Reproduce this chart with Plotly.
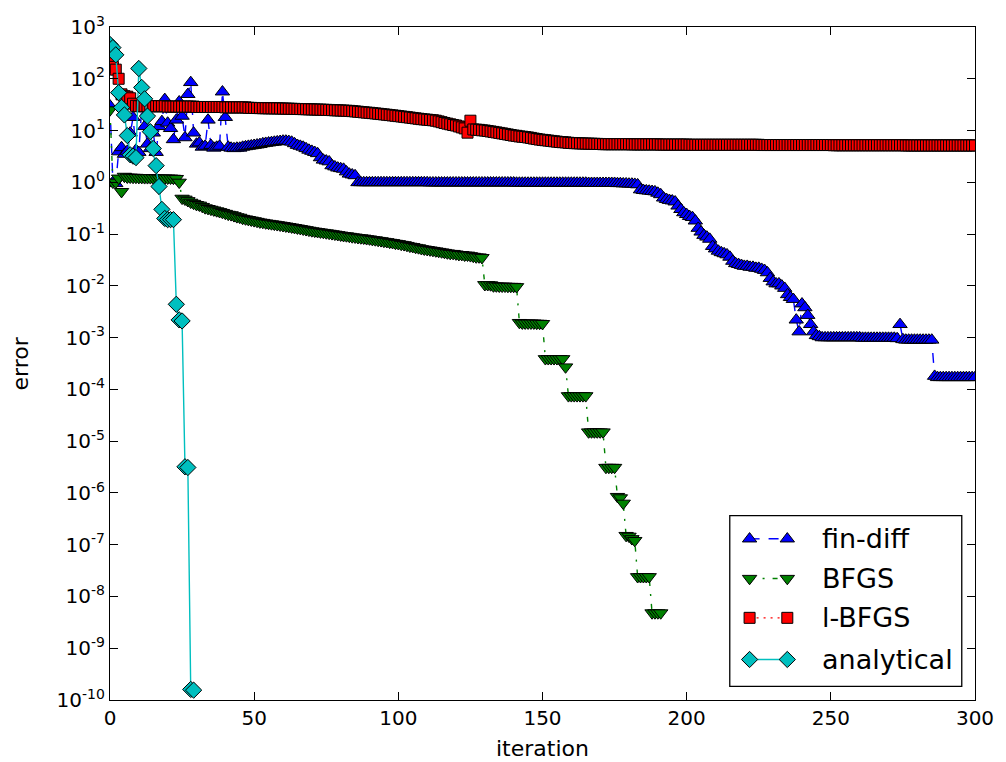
import plotly.graph_objects as go

# ---------------- data ----------------
x_ticks = [0, 50, 100, 150, 200, 250, 300]
y_tick_vals = [1e3, 1e2, 1e1, 1e0, 1e-1, 1e-2, 1e-3, 1e-4, 1e-5, 1e-6, 1e-7, 1e-8, 1e-9, 1e-10]
y_tick_text = ["10<sup>3</sup>", "10<sup>2</sup>", "10<sup>1</sup>", "10<sup>0</sup>",
               "10<sup>-1</sup>", "10<sup>-2</sup>", "10<sup>-3</sup>", "10<sup>-4</sup>",
               "10<sup>-5</sup>", "10<sup>-6</sup>", "10<sup>-7</sup>", "10<sup>-8</sup>",
               "10<sup>-9</sup>", "10<sup>-10</sup>"]
series_names = ["fin-diff", "BFGS", "l-BFGS", "analytical"]

fin_diff = ([30, 1.0, 0.95, 3.9, 4.7, 3.5, 4.0, 9.0, 18, 4.2,
             3.8, 28, 12, 5.5, 4.5, 9.0, 3.8, 12, 15, 40,
             14, 11, 6.7, 16, 36, 19, 7.3, 50, 85, 9.0,
             5.5, 5.8, 4.8, 5.0, 16, 5.2, 4.6, 4.8, 5.0, 56,
             18, 4.8, 4.6, 4.5, 4.6,
             4.6, 4.8, 4.9, 5.0, 5.1, 5.2, 5.3, 5.4, 5.6, 5.7,
             5.8, 5.9, 6.0, 6.1, 6.2, 6.3, 6.3, 6.2, 6.0, 5.6,
             5.2, 5.0, 4.8, 4.5, 4.2, 4.0, 3.8, 3.6, 3.0, 2.7,
             2.6, 2.5, 2.1, 2.0, 1.9, 1.85, 1.8, 1.6, 1.45, 1.4,
             1.35]
            + [0.99] * 25 + [0.98] * 30 + [0.97] * 25 + [0.96] * 10
            + [0.95, 0.95, 0.94, 0.94, 0.93, 0.93, 0.92, 0.9,
               0.72, 0.70, 0.69, 0.68, 0.67, 0.66, 0.62, 0.58,
               0.50, 0.47, 0.45, 0.44, 0.42, 0.35,
               0.30, 0.26, 0.24, 0.22, 0.21, 0.18,
               0.13, 0.11, 0.095, 0.088, 0.08,
               0.058, 0.052, 0.047, 0.044, 0.042, 0.040, 0.036,
               0.030, 0.027, 0.026, 0.025, 0.024, 0.024, 0.023, 0.023, 0.022, 0.022, 0.021, 0.020, 0.018,
               0.014, 0.012, 0.011, 0.011, 0.010, 0.009,
               0.0068, 0.0060, 0.0055,
               0.0022, 0.0013, 0.0045, 0.0038, 0.0027, 0.0018, 0.0013, 0.0011, 0.00105]
            + [0.001] * 14 + [0.00098] * 12
            + [0.00096, 0.0018, 0.00092]
            + [0.0009] * 10 + [0.00018] + [0.00017] * 14)

bfgs = ([25, 1.0, 1.0, 1.2, 0.66, 1.3,
         1.25, 1.25, 1.24, 1.24, 1.23, 1.23, 1.22, 1.22, 1.22, 1.21,
         1.21, 1.2, 1.2, 1.2, 1.2, 1.2, 1.19, 1.18,
         1.0,
         0.49, 0.47, 0.44, 0.41, 0.39, 0.37, 0.36, 0.34, 0.32, 0.31,
         0.30, 0.29, 0.28, 0.27, 0.26, 0.25, 0.24, 0.235, 0.225, 0.215,
         0.21, 0.20, 0.195, 0.19, 0.185, 0.18, 0.175, 0.17, 0.167, 0.163,
         0.16, 0.157, 0.154, 0.151, 0.148, 0.145, 0.142, 0.139, 0.136, 0.133,
         0.13, 0.127, 0.124, 0.121, 0.118, 0.115, 0.113, 0.111, 0.109, 0.107,
         0.105, 0.103, 0.101, 0.099, 0.097, 0.095, 0.093, 0.092, 0.09, 0.088,
         0.087, 0.085, 0.084, 0.083, 0.081, 0.08, 0.078, 0.077, 0.075, 0.074,
         0.072, 0.071, 0.069, 0.068, 0.066, 0.065, 0.063, 0.062, 0.06, 0.058,
         0.057, 0.055, 0.054, 0.052, 0.051, 0.05, 0.049, 0.048, 0.047, 0.046,
         0.045, 0.044, 0.043, 0.042, 0.042, 0.041, 0.04, 0.04, 0.039, 0.039,
         0.038, 0.037, 0.036, 0.036, 0.035,
         0.0105, 0.0105, 0.0104, 0.0099, 0.0099, 0.0098, 0.0098, 0.0098, 0.0097, 0.0097,
         0.0097, 0.0096,
         0.00195, 0.0019, 0.0019, 0.0019, 0.0019, 0.0019, 0.00188, 0.00188, 0.00186]
        + [0.00039] * 7 + [0.00027] + [7.5e-5] * 7 + [1.5e-5] * 6 + [3.1e-6] * 4
        + [8.5e-7, 8.0e-7, 6.3e-7, 1.5e-7, 1.45e-7, 1.3e-7, 1.2e-7]
        + [2.4e-8] * 5 + [4.8e-9] * 4)

l_bfgs = ([200, 170, 150, 100, 50, 46, 45, 42, 33, 30]
          + [29.5] * 10 + [29.0] * 10 + [28.5] * 10 + [28.0] * 8
          + [27.5, 27.4, 27.3, 27.2, 27.1, 27.0, 27.0, 26.9, 26.9, 26.8, 26.8, 26.7,
             26.6, 26.5, 26.4, 26.3, 26.2, 26.1, 26.0, 25.9, 25.8, 25.7, 25.6, 25.5,
             25.4, 25.3, 25.2, 25.1,
             25.0, 24.8, 24.6, 24.5, 24.4, 24.3, 24.1, 24.0,
             23.7, 23.4, 23.1, 22.8, 22.5, 22.2, 22.0,
             21.7, 21.4, 21.1, 20.8, 20.5, 20.2, 19.9, 19.6, 19.3, 19.0,
             18.7, 18.4, 18.1, 17.8, 17.5, 17.2, 16.9, 16.6, 16.4, 16.2, 16.0, 15.8, 15.5,
             15.0, 14.5, 14.0, 13.6, 13.2, 12.8, 12.5, 12.0, 11.5, 11.0,
             9.1, 15.5, 10.5, 10.4, 10.3, 10.1, 10.0, 9.8, 9.6, 9.4, 9.2,
             9.0, 8.8, 8.6, 8.4, 8.2, 8.0, 7.9, 7.7, 7.6, 7.5, 7.35, 7.2,
             7.0, 6.85, 6.7, 6.6, 6.5, 6.4, 6.3, 6.2, 6.1, 6.0, 5.95, 5.9,
             5.8, 5.75, 5.7, 5.68, 5.65, 5.62, 5.6, 5.58, 5.56, 5.54, 5.52, 5.5]
          + [5.45] * 10 + [5.4] * 10 + [5.35] * 10
          + [5.3] * 25 + [5.25] * 25 + [5.2] * 25 + [5.15] * 25)

analytical = [460, 400, 290, 54, 28, 20, 8.0, 3.4, 3.2, 3.0,
              158, 68, 41, 19, 9.5, 4.5, 2.1, 0.83, 0.30, 0.20,
              0.19, 0.19, 0.19, 0.0044, 0.0022, 0.0021, 3.2e-6, 3.1e-6, 1.6e-10, 1.55e-10]

# ---------------- styles ----------------
styles = {
    "fin-diff":   dict(color="#0000ff", symbol="triangle-up", size=12.5, dash="10px,9px"),
    "BFGS":       dict(color="#008000", symbol="triangle-down", size=12.5, dash="5px,8px,2px,8px"),
    "l-BFGS":     dict(color="#ff0000", symbol="square", size=11, dash="2px,5px"),
    "analytical": dict(color="#00bfbf", symbol="diamond", size=12.5, dash="solid"),
}
values = {"fin-diff": fin_diff, "BFGS": bfgs, "l-BFGS": l_bfgs, "analytical": analytical}

FONT = "DejaVu Sans"
fig = go.Figure()
for name in series_names:
    st = styles[name]
    ys = values[name]
    fig.add_trace(go.Scatter(
        x=list(range(len(ys))), y=ys, mode="lines+markers", name=name,
        line=dict(color=st["color"], width=1.4, dash=st["dash"]),
        marker=dict(symbol=st["symbol"], size=st["size"], color=st["color"],
                    line=dict(color="black", width=1)),
        showlegend=False,
    ))

# ---------------- matplotlib-like legend (overlay axes in [0,1]) ----------------
leg_rows = [0.2395, 0.1805, 0.1221, 0.0602]
leg_x = [0.7394, 0.783]
for name, ry in zip(series_names, leg_rows):
    st = styles[name]
    fig.add_trace(go.Scatter(
        x=leg_x, y=[ry, ry], xaxis="x2", yaxis="y2", mode="lines+markers",
        line=dict(color=st["color"], width=1.4, dash=st["dash"]),
        marker=dict(symbol=st["symbol"], size=st["size"], color=st["color"],
                    line=dict(color="black", width=1)),
        showlegend=False, hoverinfo="skip",
    ))
    fig.add_annotation(x=0.8207, y=ry, xref="paper", yref="paper", text=name,
                       showarrow=False, xanchor="left", yanchor="middle",
                       font=dict(family=FONT, size=27, color="black"))

fig.add_shape(type="rect", xref="paper", yref="paper", x0=0.7165, x1=0.9847,
              y0=0.0201, y1=0.2741, line=dict(color="black", width=1.3),
              fillcolor="rgba(0,0,0,0)", layer="below")

# axis titles
fig.add_annotation(x=0.5, y=0, xref="paper", yref="paper", text="iteration",
                   showarrow=False, xanchor="center", yanchor="middle", yshift=-48,
                   font=dict(family=FONT, size=22, color="black"))
fig.add_annotation(x=0, y=0.5, xref="paper", yref="paper", text="error",
                   showarrow=False, xanchor="center", yanchor="middle", xshift=-90,
                   textangle=-90, font=dict(family=FONT, size=22, color="black"))

axis_common = dict(ticks="inside", ticklen=8, tickwidth=1, tickcolor="black",
                   showline=True, linecolor="black", linewidth=1.3, mirror="ticks",
                   showgrid=False, zeroline=False,
                   tickfont=dict(family=FONT, size=20, color="black"))

fig.update_layout(
    width=1006, height=762,
    margin=dict(l=110, r=26, t=27, b=62),
    paper_bgcolor="white", plot_bgcolor="white",
    showlegend=False,
    font=dict(family=FONT, size=20, color="black"),
    xaxis=dict(range=[0, 300], tickvals=x_ticks, **axis_common),
    yaxis=dict(type="log", range=[-10, 3], tickvals=y_tick_vals, ticktext=y_tick_text,
               **axis_common),
    xaxis2=dict(overlaying="x", range=[0, 1], visible=False, anchor="y"),
    yaxis2=dict(overlaying="y", range=[0, 1], visible=False, anchor="x"),
)

fig.write_html("out.html")
